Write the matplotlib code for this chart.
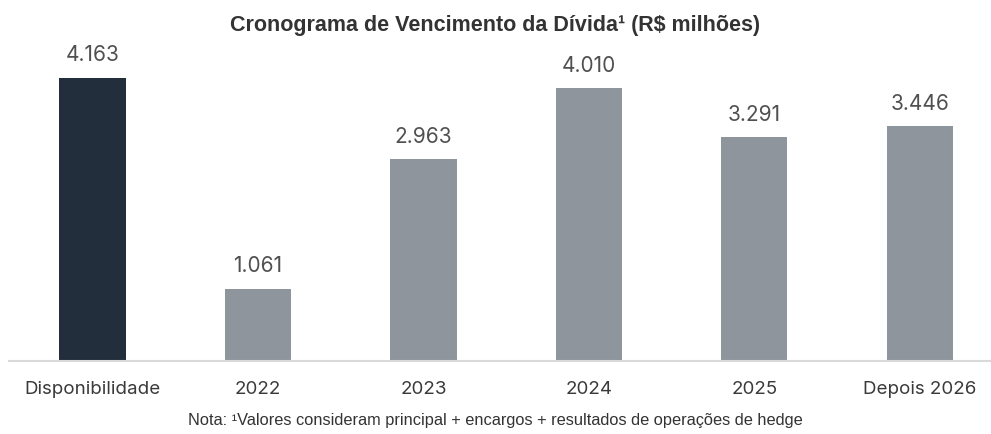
import matplotlib.pyplot as plt

categorias = ["Disponibilidade", "2022", "2023", "2024", "2025", "Depois 2026"]
valores = [4163, 1061, 2963, 4010, 3291, 3446]
rotulos = ["4.163", "1.061", "2.963", "4.010", "3.291", "3.446"]

cor_caixa = "#232e3c"
cor_divida = "#8e959d"

fig = plt.figure(figsize=(9.91, 4.34), dpi=100)
ax = fig.add_axes([0.009, 0.168, 0.991, 0.72])

cores = [cor_caixa] + [cor_divida] * (len(valores) - 1)
x = list(range(len(categorias)))
ax.bar(x, valores, width=0.4, color=cores, zorder=2)

for xi, v, r in zip(x, valores, rotulos):
    ax.annotate(r, (xi, v), xytext=(0, 9), textcoords="offset points",
                ha="center", va="bottom", fontsize=15, color="#505050",
                family="Inter")

ax.set_xlim(-0.505, 5.43)
ax.set_ylim(0, 4163 / 283 * 312)
ax.set_xticks(x)
ax.set_xticklabels(categorias, fontsize=13.5, color="#3a3a3a", family="Inter")
ax.tick_params(axis="x", length=0, pad=14)
ax.set_yticks([])
for s in ["top", "right", "left"]:
    ax.spines[s].set_visible(False)
ax.spines["bottom"].set_color("#d9d9d9")
ax.spines["bottom"].set_linewidth(1.5)

fig.text(0.5, 0.942, "Cronograma de Vencimento da Dívida¹ (R$ milhões)",
         ha="center", va="center", fontsize=15.5, fontweight="bold",
         color="#333333", family="Liberation Sans")
fig.text(0.5, 0.03,
         "Nota: ¹Valores consideram principal + encargos + resultados de operações de hedge",
         ha="center", va="center", fontsize=11.8, color="#333333",
         family="Liberation Sans")

fig.savefig("out.png", dpi=100)
